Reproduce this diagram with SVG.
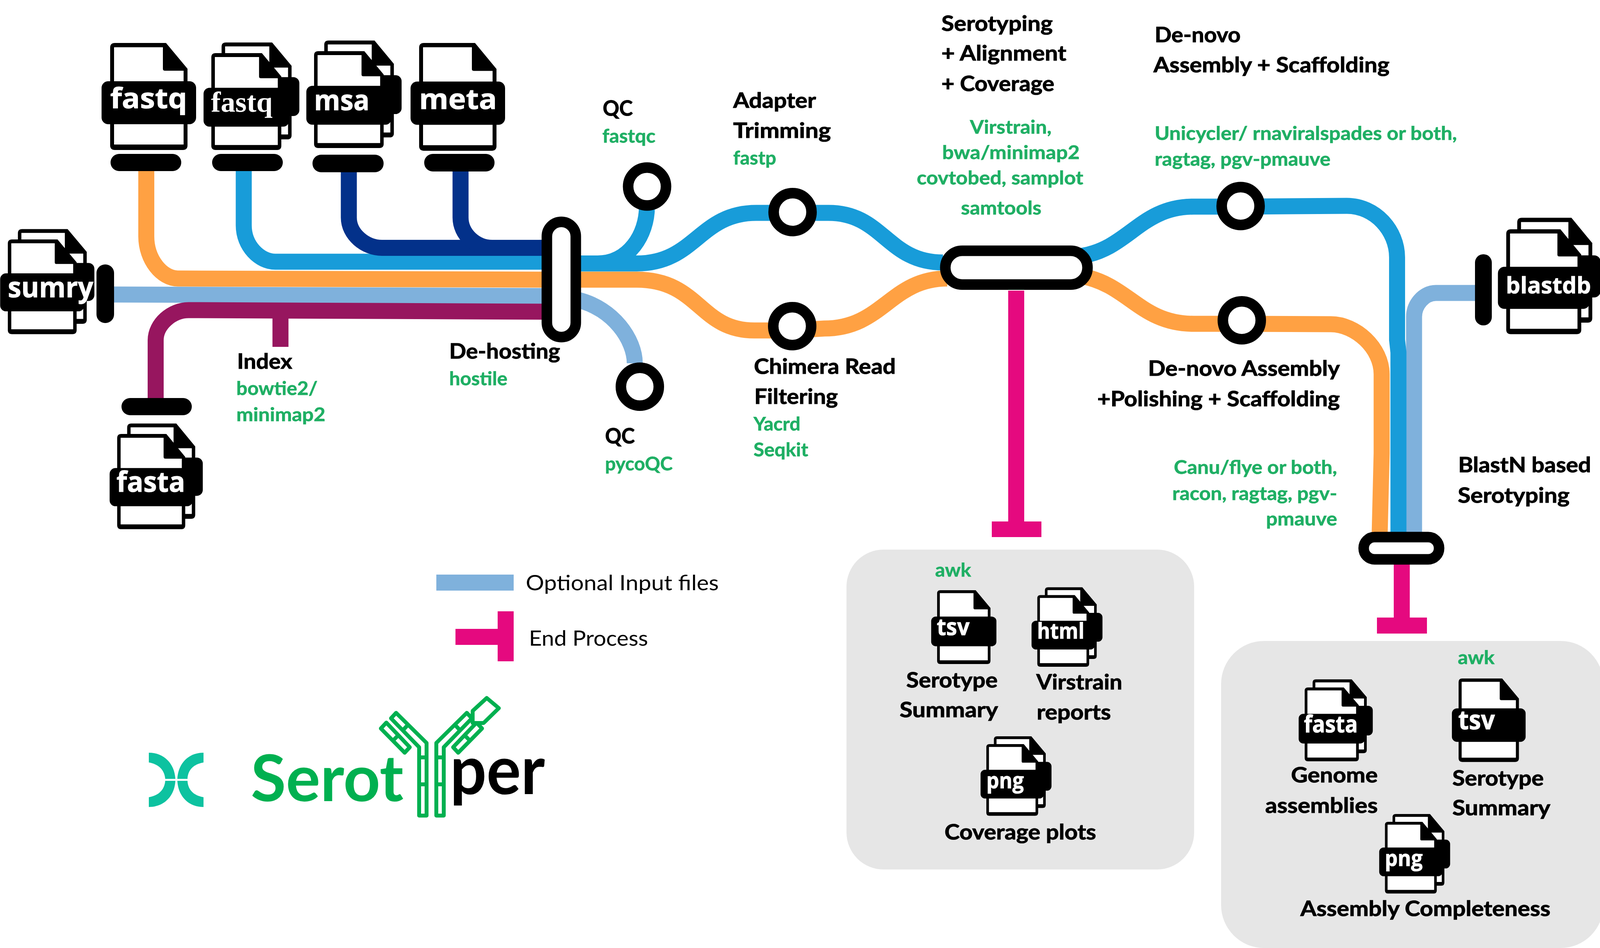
<svg xmlns="http://www.w3.org/2000/svg" width="4130" height="2427" viewBox="0 0 4130 2427">
<style>
text{font-family:"Lato","Liberation Sans",sans-serif;font-weight:700;text-rendering:geometricPrecision}
.b{font-size:54px;fill:#000;stroke:#000;stroke-width:1.2px}
.g{font-size:48px;fill:#1FAF64;stroke:#1FAF64;stroke-width:.8px}
.r{font-size:54px;fill:#000;font-weight:400}
.w{font-family:"Open Sans","Liberation Sans",sans-serif;font-size:72px;fill:#fff;stroke:#fff;stroke-width:1px}
.ws{font-family:"Liberation Serif",serif;font-size:74px;fill:#fff}
.line{fill:none;stroke-width:41}
.or{stroke:#FFA143}.cy{stroke:#189CD9}.db{stroke:#03318A}.lb{stroke:#7FB1DC}.ma{stroke:#97165F}
.mg{fill:#E5097F}
.stop{fill:#000}
.st{fill:#fff;stroke:#000;stroke-width:27}
.panel{fill:#E6E6E6}
.ab{fill:none;stroke:#00B050;stroke-width:10;stroke-linejoin:round}
.teal{fill:#0DC2A0}
</style>
<defs>
<g id="doc">
<path fill="#000" d="M12 0H143L198 66V262Q198 274 186 274H12Q0 274 0 262V12Q0 0 12 0Z"/>
<path fill="#fff" d="M10 11H135V66Q135 71 140 71H188V260H10Z"/>
<rect x="-22" y="98" width="242" height="110" rx="17" fill="#000"/>
</g>
<g id="ddoc">
<use href="#doc" transform="translate(29 -30)"/>
<use href="#doc"/>
</g>
</defs>
<rect width="4130" height="2427" fill="#fff"/>

<g id="panels">
<rect class="panel" x="2167" y="1407" width="890" height="819" rx="95"/>
<rect class="panel" x="3126" y="1641" width="979" height="786" rx="110"/>
</g>

<g id="connectors">
<path class="line lb" d="M292 754L1400 758"/>
<path class="line ma" d="M398.500 1019V871C398.500 830 440 794 483 794L1400 798"/>
<path class="line ma" d="M718 800V888"/>
<path class="line or" d="M374.500 438V605C374.500 665 415 713 455 713L1400 716H1630C1790 716 1790 846 1931 846H2028L2110 841C2260 841 2280 713 2425 713"/>
<path class="line cy" d="M624 438V577C624 630 665 670 705 670H1400"/>
<path class="line db" d="M893 441V557C893 600 935 634.500 978 634.500H1400"/>
<path class="line db" d="M1179 439V557C1179 600 1218 634.500 1260 634.500H1400"/>
<path class="line cy" d="M1400 674.500H1630C1780 674.500 1790 545 1936 545H2118C2260 543 2270 672 2414 672"/>
<path class="line cy" d="M1487 674.500H1530C1610 674.500 1656 600 1656 530"/>
<path class="line lb" d="M1480 768C1570 790 1625 870 1625 930"/>
<path class="line or" d="M2770 707C2890 730 2920 829 3056 829H3179L3407 830C3470 830 3537 890 3537 958V1160L3532 1365"/>
<path class="line lb" d="M3780 750H3676C3645 750 3620 780 3620 811V1365"/>
<path class="line cy" d="M2770 655C2890 635 2920 529 3056 529H3176L3448 527C3520 527 3576.500 590 3576.500 659V870L3580 902V1365"/>
<rect class="mg" x="2581" y="744" width="41" height="600"/>
<rect class="mg" x="2539" y="1335" width="127" height="40"/>
<rect class="mg" x="3568" y="1440" width="41" height="145"/>
<rect class="mg" x="3525" y="1581" width="128" height="41"/>
</g>

<g id="stop-fastq1"><rect class="stop" x="283" y="394" width="181" height="44" rx="22"/></g>
<g id="stop-fastq2"><rect class="stop" x="543" y="394" width="181" height="44" rx="22"/></g>
<g id="stop-msa"><rect class="stop" x="800" y="396" width="182" height="45" rx="22"/></g>
<g id="stop-meta"><rect class="stop" x="1086" y="394" width="180" height="45" rx="22"/></g>
<g id="stop-sumry"><rect class="stop" x="247" y="677" width="45" height="150" rx="22"/></g>
<g id="stop-fasta"><rect class="stop" x="311" y="1019" width="180" height="44" rx="22"/></g>
<g id="stop-blastdb"><rect class="stop" x="3776" y="651" width="43" height="182" rx="21"/></g>

<g id="node-dehosting"><rect class="st" x="1400" y="568" width="74" height="295" rx="37"/>
<text class="b" x="1150" y="918" textLength="284" lengthAdjust="spacingAndGlyphs">De-hosting</text>
<text class="g" x="1150" y="986" textLength="149" lengthAdjust="spacingAndGlyphs">hostile</text></g>

<g id="node-index">
<text class="b" x="607" y="944" textLength="141" lengthAdjust="spacingAndGlyphs">Index</text>
<text class="g" x="605" y="1011" textLength="208" lengthAdjust="spacingAndGlyphs">bowtie2/</text>
<text class="g" x="605" y="1078" textLength="228" lengthAdjust="spacingAndGlyphs">minimap2</text></g>

<g id="node-qc1"><circle class="st" cx="1656.500" cy="477.500" r="48.500"/>
<text class="b" x="1543" y="296" textLength="77" lengthAdjust="spacingAndGlyphs">QC</text>
<text class="g" x="1542" y="365" textLength="136" lengthAdjust="spacingAndGlyphs">fastqc</text></g>

<g id="node-qc2"><circle class="st" cx="1638" cy="990" r="48.500"/>
<text class="b" x="1549" y="1135" textLength="76" lengthAdjust="spacingAndGlyphs">QC</text>
<text class="g" x="1549" y="1204" textLength="173" lengthAdjust="spacingAndGlyphs">pycoQC</text></g>

<g id="node-adapter"><circle class="st" cx="2029" cy="543" r="48.500"/>
<text class="b" x="1877" y="276" textLength="212" lengthAdjust="spacingAndGlyphs">Adapter</text>
<text class="b" x="1877" y="353" textLength="250" lengthAdjust="spacingAndGlyphs">Trimming</text>
<text class="g" x="1877" y="421" textLength="110" lengthAdjust="spacingAndGlyphs">fastp</text></g>

<g id="node-chimera"><circle class="st" cx="2028" cy="835" r="48.500"/>
<text class="b" x="1930" y="957" textLength="363" lengthAdjust="spacingAndGlyphs">Chimera Read</text>
<text class="b" x="1931" y="1034" textLength="214" lengthAdjust="spacingAndGlyphs">Filtering</text>
<text class="g" x="1929" y="1102" textLength="120" lengthAdjust="spacingAndGlyphs">Yacrd</text>
<text class="g" x="1929" y="1168" textLength="140" lengthAdjust="spacingAndGlyphs">Seqkit</text></g>

<g id="node-serotyping"><rect class="st" x="2420" y="642" width="364" height="86.500" rx="43"/>
<text class="b" x="2410" y="79" textLength="285" lengthAdjust="spacingAndGlyphs">Serotyping</text>
<text class="b" x="2410" y="155" textLength="320" lengthAdjust="spacingAndGlyphs">+ Alignment</text>
<text class="b" x="2410" y="233" textLength="289" lengthAdjust="spacingAndGlyphs">+ Coverage</text>
<text class="g" x="2483" y="342" textLength="209" lengthAdjust="spacingAndGlyphs">Virstrain,</text>
<text class="g" x="2412" y="407" textLength="352" lengthAdjust="spacingAndGlyphs">bwa/minimap2</text>
<text class="g" x="2347" y="472" textLength="426" lengthAdjust="spacingAndGlyphs">covtobed, samplot</text>
<text class="g" x="2460" y="549" textLength="206" lengthAdjust="spacingAndGlyphs">samtools</text></g>

<g id="node-denovo1"><circle class="st" cx="3176" cy="527.500" r="48.500"/>
<text class="b" x="2956" y="108" textLength="220" lengthAdjust="spacingAndGlyphs">De-novo</text>
<text class="b" x="2953" y="185" textLength="604" lengthAdjust="spacingAndGlyphs">Assembly + Scaffolding</text>
<text class="g" x="2956" y="358" textLength="774" lengthAdjust="spacingAndGlyphs">Unicycler/ rnaviralspades or both,</text>
<text class="g" x="2956" y="424" textLength="450" lengthAdjust="spacingAndGlyphs">ragtag, pgv-pmauve</text></g>

<g id="node-denovo2"><circle class="st" cx="3179" cy="820" r="48.500"/>
<text class="b" x="2939" y="962" textLength="491" lengthAdjust="spacingAndGlyphs">De-novo Assembly</text>
<text class="b" x="2809" y="1040" textLength="621" lengthAdjust="spacingAndGlyphs">+Polishing + Scaffolding</text>
<text class="g" x="3005" y="1213" textLength="418" lengthAdjust="spacingAndGlyphs">Canu/flye or both,</text>
<text class="g" x="3001" y="1280" textLength="422" lengthAdjust="spacingAndGlyphs">racon, ragtag, pgv-</text>
<text class="g" x="3241" y="1345" textLength="182" lengthAdjust="spacingAndGlyphs">pmauve</text></g>

<g id="node-blastn"><rect class="st" x="3491" y="1375" width="193" height="57" rx="28"/>
<text class="b" x="3733" y="1209" textLength="340" lengthAdjust="spacingAndGlyphs">BlastN based</text>
<text class="b" x="3732" y="1287" textLength="286" lengthAdjust="spacingAndGlyphs">Serotyping</text></g>

<g id="file-fastq1"><use href="#doc" transform="translate(282 110)"/>
<text class="w" x="282" y="277" textLength="197" lengthAdjust="spacingAndGlyphs">fastq</text></g>
<g id="file-fastq2"><use href="#ddoc" transform="translate(541 136) scale(.905 .905)"/>
<text class="ws" x="540" y="286" textLength="158" lengthAdjust="spacingAndGlyphs">fastq</text></g>
<g id="file-msa"><use href="#ddoc" transform="translate(804 131) scale(.9 .905)"/>
<text class="w" x="804" y="282" textLength="142" lengthAdjust="spacingAndGlyphs">msa</text></g>
<g id="file-meta"><use href="#doc" transform="translate(1073 110) scale(1 1.007)"/>
<text class="w" x="1073" y="279" textLength="199" lengthAdjust="spacingAndGlyphs">meta</text></g>
<g id="file-sumry"><use href="#ddoc" transform="translate(20 613) scale(.89 .885)"/>
<text class="w" x="20" y="761" textLength="219" lengthAdjust="spacingAndGlyphs">sumry</text></g>
<g id="file-fasta"><use href="#ddoc" transform="translate(300 1111) scale(.88 .89)"/>
<text class="w" x="298" y="1259" textLength="176" lengthAdjust="spacingAndGlyphs">fasta</text></g>
<g id="file-blastdb"><use href="#ddoc" transform="translate(3856 587) scale(.97 .98)"/>
<text class="w" style="font-size:58px" x="3855" y="751" textLength="218" lengthAdjust="spacingAndGlyphs">blastdb</text></g>

<g id="legend">
<rect x="1117" y="1471" width="198" height="41" fill="#7FB1DC"/>
<text class="r" x="1346" y="1511" textLength="494" lengthAdjust="spacingAndGlyphs">Optional Input files</text>
<path class="mg" d="M1166 1610H1274V1565H1315V1693H1274V1651H1166Z"/>
<text class="r" x="1354" y="1653" textLength="305" lengthAdjust="spacingAndGlyphs">End Process</text>
</g>

<g id="output1">
<text class="g" x="2394" y="1476" textLength="92" lengthAdjust="spacingAndGlyphs">awk</text>
<g id="out1-tsv"><use href="#doc" transform="translate(2399 1511) scale(.69 .69)"/>
<text class="w" style="font-size:60px" x="2398" y="1626" textLength="84" lengthAdjust="spacingAndGlyphs">tsv</text></g>
<text class="b" x="2320" y="1760" textLength="234" lengthAdjust="spacingAndGlyphs">Serotype</text>
<text class="b" x="2303" y="1836" textLength="252" lengthAdjust="spacingAndGlyphs">Summary</text>
<g id="out1-html"><use href="#ddoc" transform="translate(2655.500 1523.500) scale(.67 .67)"/>
<text class="w" style="font-size:56px" x="2655" y="1635" textLength="121" lengthAdjust="spacingAndGlyphs">html</text></g>
<text class="b" x="2653" y="1765" textLength="220" lengthAdjust="spacingAndGlyphs">Virstrain</text>
<text class="b" x="2654" y="1842" textLength="190" lengthAdjust="spacingAndGlyphs">reports</text>
<g id="out1-png"><use href="#ddoc" transform="translate(2525 1905) scale(.67 .67)"/>
<text class="w" style="font-size:56px" x="2525" y="2018" textLength="96" lengthAdjust="spacingAndGlyphs">png</text></g>
<text class="b" x="2418" y="2149" textLength="388" lengthAdjust="spacingAndGlyphs">Coverage plots</text>
</g>

<g id="output2">
<text class="g" x="3732" y="1700" textLength="94" lengthAdjust="spacingAndGlyphs">awk</text>
<g id="out2-fasta"><use href="#ddoc" transform="translate(3340 1760) scale(.7 .69)"/>
<text class="w" style="font-size:60px" x="3338" y="1875" textLength="138" lengthAdjust="spacingAndGlyphs">fasta</text></g>
<text class="b" x="3305" y="2003" textLength="222" lengthAdjust="spacingAndGlyphs">Genome</text>
<text class="b" x="3239" y="2081" textLength="288" lengthAdjust="spacingAndGlyphs">assemblies</text>
<g id="out2-tsv"><use href="#doc" transform="translate(3734 1737) scale(.78 .78)"/>
<text class="w" style="font-size:68px" x="3733" y="1867" textLength="94" lengthAdjust="spacingAndGlyphs">tsv</text></g>
<text class="b" x="3718" y="2011" textLength="234" lengthAdjust="spacingAndGlyphs">Serotype</text>
<text class="b" x="3718" y="2087" textLength="251" lengthAdjust="spacingAndGlyphs">Summary</text>
<g id="out2-png"><use href="#ddoc" transform="translate(3545.500 2104) scale(.67 .67)"/>
<text class="w" style="font-size:56px" x="3545" y="2217" textLength="97" lengthAdjust="spacingAndGlyphs">png</text></g>
<text class="b" x="3329" y="2345" textLength="640" lengthAdjust="spacingAndGlyphs">Assembly Completeness</text>
</g>

<g id="logo">
<path class="teal" d="M381 1927V1952C405 1956 421 1970 423 1994H449C447 1955 420 1927 381 1927Z"/>
<path class="teal" d="M521 1927V1952C497 1956 481 1970 480 1994H454C456 1955 482 1927 521 1927Z"/>
<path class="teal" d="M381 2066V2041C405 2037 421 2023 423 1999H449C447 2038 420 2066 381 2066Z"/>
<path class="teal" d="M521 2066V2041C497 2037 481 2023 480 1999H454C456 2038 482 2066 521 2066Z"/>
<text x="642" y="2051" style="font-size:165px;fill:#00B050" textLength="391" lengthAdjust="spacingAndGlyphs">Serot</text>
<text x="1152" y="2033" style="font-size:174px;fill:#000" textLength="243" lengthAdjust="spacingAndGlyphs">per</text>
<path class="ab" d="M1014 1825L1092 1902V2088H1073V1913L1001 1839Z"/>
<path class="ab" d="M1195 1825L1117 1902V2088H1136V1913L1208 1839Z"/>
<path class="ab" d="M989 1850L1049 1913L1036 1927L975 1865Z"/>
<path class="ab" d="M1044 1856L1030 1871M1017 1885L1007 1895"/>
<path class="ab" d="M1073 1939H1092M1073 2008H1092M1136 1939H1117M1136 2008H1117"/>
<path class="ab" d="M1220 1850L1160 1913L1173 1927L1234 1865Z"/>
<path class="ab" d="M1165 1856L1179 1871M1192 1885L1202 1895"/>
<path class="ab" d="M1246 1787L1277 1813L1238 1851H1210V1820Z" style="fill:#fff"/>
</g>
</svg>
